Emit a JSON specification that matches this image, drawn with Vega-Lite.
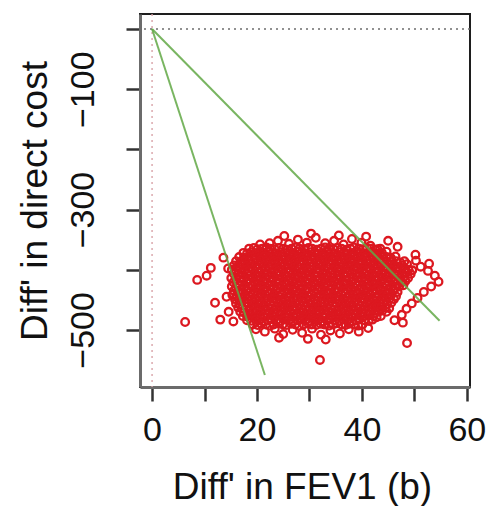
{
  "$schema": "https://vega.github.io/schema/vega-lite/v6.json",
  "width": 330,
  "height": 373,
  "autosize": {"type": "none"},
  "padding": {"left": 140, "top": 14, "right": 22, "bottom": 119},
  "background": "white",
  "config": {
    "font": "Liberation Sans",
    "view": {"stroke": "#1e1e1e", "strokeWidth": 2}
  },
  "datasets": {
    "sims": [
      {"x":18.5,"y":-365},{"x":19.4,"y":-364},{"x":20.1,"y":-366},{"x":21.0,"y":-365},{"x":21.8,"y":-363},{"x":22.5,"y":-365},{"x":23.4,"y":-366},{"x":24.2,"y":-364},{"x":25.0,"y":-365},{"x":25.7,"y":-367},{"x":26.6,"y":-365},{"x":27.4,"y":-363},{"x":28.1,"y":-365},{"x":29.0,"y":-366},{"x":29.8,"y":-364},{"x":30.5,"y":-365},{"x":31.4,"y":-367},{"x":32.2,"y":-365},{"x":33.0,"y":-363},{"x":33.7,"y":-365},{"x":34.6,"y":-366},{"x":35.4,"y":-364},{"x":36.1,"y":-365},{"x":37.0,"y":-367},{"x":37.8,"y":-365},{"x":38.5,"y":-363},{"x":39.4,"y":-365},{"x":40.2,"y":-366},{"x":41.0,"y":-364},{"x":41.7,"y":-365},{"x":42.6,"y":-367},{"x":43.5,"y":-365},
      {"x":17.4,"y":-372},{"x":18.1,"y":-373},{"x":18.9,"y":-371},{"x":19.8,"y":-372},{"x":20.5,"y":-374},{"x":21.4,"y":-372},{"x":22.2,"y":-370},{"x":22.9,"y":-372},{"x":23.8,"y":-373},{"x":24.6,"y":-371},{"x":25.3,"y":-372},{"x":26.2,"y":-374},{"x":27.0,"y":-372},{"x":27.8,"y":-370},{"x":28.5,"y":-372},{"x":29.4,"y":-373},{"x":30.2,"y":-371},{"x":31.0,"y":-372},{"x":31.7,"y":-374},{"x":32.6,"y":-372},{"x":33.4,"y":-370},{"x":34.1,"y":-372},{"x":35.0,"y":-373},{"x":35.8,"y":-371},{"x":36.6,"y":-372},{"x":37.3,"y":-374},{"x":38.2,"y":-372},{"x":39.0,"y":-370},{"x":39.7,"y":-372},{"x":40.6,"y":-373},{"x":41.4,"y":-371},{"x":42.1,"y":-372},{"x":43.0,"y":-374},{"x":43.8,"y":-372},{"x":44.7,"y":-370},
      {"x":16.6,"y":-379},{"x":17.5,"y":-380},{"x":18.3,"y":-378},{"x":19.0,"y":-379},{"x":19.9,"y":-381},{"x":20.7,"y":-379},{"x":21.4,"y":-377},{"x":22.3,"y":-379},{"x":23.1,"y":-380},{"x":23.8,"y":-378},{"x":24.7,"y":-379},{"x":25.5,"y":-381},{"x":26.3,"y":-379},{"x":27.0,"y":-377},{"x":27.9,"y":-379},{"x":28.7,"y":-380},{"x":29.4,"y":-378},{"x":30.3,"y":-379},{"x":31.1,"y":-381},{"x":31.9,"y":-379},{"x":32.6,"y":-377},{"x":33.5,"y":-379},{"x":34.3,"y":-380},{"x":35.0,"y":-378},{"x":35.9,"y":-379},{"x":36.7,"y":-381},{"x":37.4,"y":-379},{"x":38.3,"y":-377},{"x":39.1,"y":-379},{"x":39.8,"y":-380},{"x":40.7,"y":-378},{"x":41.5,"y":-379},{"x":42.3,"y":-381},{"x":43.0,"y":-379},{"x":43.9,"y":-377},{"x":44.7,"y":-379},{"x":45.5,"y":-380},{"x":46.4,"y":-378},
      {"x":16.0,"y":-386},{"x":16.9,"y":-387},{"x":17.7,"y":-385},{"x":18.4,"y":-386},{"x":19.3,"y":-388},{"x":20.1,"y":-386},{"x":20.8,"y":-384},{"x":21.7,"y":-386},{"x":22.5,"y":-387},{"x":23.3,"y":-385},{"x":24.0,"y":-386},{"x":24.9,"y":-388},{"x":25.7,"y":-386},{"x":26.4,"y":-384},{"x":27.3,"y":-386},{"x":28.1,"y":-387},{"x":28.8,"y":-385},{"x":29.7,"y":-386},{"x":30.5,"y":-388},{"x":31.3,"y":-386},{"x":32.0,"y":-384},{"x":32.9,"y":-386},{"x":33.7,"y":-387},{"x":34.4,"y":-385},{"x":35.3,"y":-386},{"x":36.1,"y":-388},{"x":36.8,"y":-386},{"x":37.7,"y":-384},{"x":38.5,"y":-386},{"x":39.3,"y":-387},{"x":40.0,"y":-385},{"x":40.9,"y":-386},{"x":41.7,"y":-388},{"x":42.4,"y":-386},{"x":43.3,"y":-384},{"x":44.1,"y":-386},{"x":44.8,"y":-387},{"x":45.7,"y":-385},{"x":46.5,"y":-386},{"x":47.3,"y":-388},{"x":48.1,"y":-386},
      {"x":15.6,"y":-393},{"x":16.4,"y":-394},{"x":17.3,"y":-392},{"x":18.0,"y":-393},{"x":18.8,"y":-395},{"x":19.7,"y":-393},{"x":20.4,"y":-391},{"x":21.2,"y":-393},{"x":22.1,"y":-394},{"x":22.9,"y":-392},{"x":23.6,"y":-393},{"x":24.5,"y":-395},{"x":25.3,"y":-393},{"x":26.0,"y":-391},{"x":26.9,"y":-393},{"x":27.7,"y":-394},{"x":28.4,"y":-392},{"x":29.3,"y":-393},{"x":30.1,"y":-395},{"x":30.8,"y":-393},{"x":31.7,"y":-391},{"x":32.5,"y":-393},{"x":33.3,"y":-394},{"x":34.0,"y":-392},{"x":34.9,"y":-393},{"x":35.7,"y":-395},{"x":36.4,"y":-393},{"x":37.3,"y":-391},{"x":38.1,"y":-393},{"x":38.8,"y":-394},{"x":39.7,"y":-392},{"x":40.5,"y":-393},{"x":41.2,"y":-395},{"x":42.1,"y":-393},{"x":42.9,"y":-391},{"x":43.7,"y":-393},{"x":44.4,"y":-394},{"x":45.3,"y":-392},{"x":46.1,"y":-393},{"x":46.8,"y":-395},{"x":47.7,"y":-393},{"x":48.6,"y":-391},
      {"x":15.2,"y":-400},{"x":16.0,"y":-401},{"x":16.8,"y":-399},{"x":17.7,"y":-400},{"x":18.4,"y":-402},{"x":19.2,"y":-400},{"x":20.1,"y":-398},{"x":20.9,"y":-400},{"x":21.6,"y":-401},{"x":22.5,"y":-399},{"x":23.3,"y":-400},{"x":24.0,"y":-402},{"x":24.9,"y":-400},{"x":25.7,"y":-398},{"x":26.4,"y":-400},{"x":27.3,"y":-401},{"x":28.1,"y":-399},{"x":28.9,"y":-400},{"x":29.6,"y":-402},{"x":30.5,"y":-400},{"x":31.3,"y":-398},{"x":32.0,"y":-400},{"x":32.9,"y":-401},{"x":33.7,"y":-399},{"x":34.4,"y":-400},{"x":35.3,"y":-402},{"x":36.1,"y":-400},{"x":36.8,"y":-398},{"x":37.7,"y":-400},{"x":38.5,"y":-401},{"x":39.2,"y":-399},{"x":40.1,"y":-400},{"x":40.9,"y":-402},{"x":41.6,"y":-400},{"x":42.5,"y":-398},{"x":43.3,"y":-400},{"x":44.1,"y":-401},{"x":44.8,"y":-399},{"x":45.7,"y":-400},{"x":46.5,"y":-402},{"x":47.2,"y":-400},{"x":48.1,"y":-398},{"x":48.9,"y":-400},{"x":49.6,"y":-401},
      {"x":15.6,"y":-407},{"x":16.4,"y":-408},{"x":17.2,"y":-406},{"x":18.1,"y":-407},{"x":18.8,"y":-409},{"x":19.6,"y":-407},{"x":20.5,"y":-405},{"x":21.3,"y":-407},{"x":22.0,"y":-408},{"x":22.9,"y":-406},{"x":23.7,"y":-407},{"x":24.4,"y":-409},{"x":25.3,"y":-407},{"x":26.1,"y":-405},{"x":26.8,"y":-407},{"x":27.7,"y":-408},{"x":28.5,"y":-406},{"x":29.2,"y":-407},{"x":30.1,"y":-409},{"x":30.9,"y":-407},{"x":31.6,"y":-405},{"x":32.5,"y":-407},{"x":33.3,"y":-408},{"x":34.1,"y":-406},{"x":34.8,"y":-407},{"x":35.7,"y":-409},{"x":36.5,"y":-407},{"x":37.2,"y":-405},{"x":38.1,"y":-407},{"x":38.9,"y":-408},{"x":39.6,"y":-406},{"x":40.5,"y":-407},{"x":41.3,"y":-409},{"x":42.0,"y":-407},{"x":42.9,"y":-405},{"x":43.7,"y":-407},{"x":44.4,"y":-408},{"x":45.3,"y":-406},{"x":46.1,"y":-407},{"x":46.9,"y":-409},{"x":47.6,"y":-407},{"x":48.5,"y":-405},{"x":49.3,"y":-407},
      {"x":15.1,"y":-414},{"x":16.0,"y":-415},{"x":16.8,"y":-413},{"x":17.5,"y":-414},{"x":18.4,"y":-416},{"x":19.2,"y":-414},{"x":19.9,"y":-412},{"x":20.8,"y":-414},{"x":21.6,"y":-415},{"x":22.4,"y":-413},{"x":23.1,"y":-414},{"x":24.0,"y":-416},{"x":24.8,"y":-414},{"x":25.5,"y":-412},{"x":26.4,"y":-414},{"x":27.2,"y":-415},{"x":27.9,"y":-413},{"x":28.8,"y":-414},{"x":29.6,"y":-416},{"x":30.3,"y":-414},{"x":31.2,"y":-412},{"x":32.0,"y":-414},{"x":32.8,"y":-415},{"x":33.5,"y":-413},{"x":34.4,"y":-414},{"x":35.2,"y":-416},{"x":35.9,"y":-414},{"x":36.8,"y":-412},{"x":37.6,"y":-414},{"x":38.3,"y":-415},{"x":39.2,"y":-413},{"x":40.0,"y":-414},{"x":40.7,"y":-416},{"x":41.6,"y":-414},{"x":42.4,"y":-412},{"x":43.2,"y":-414},{"x":43.9,"y":-415},{"x":44.8,"y":-413},{"x":45.6,"y":-414},{"x":46.3,"y":-416},{"x":47.2,"y":-414},{"x":48.0,"y":-412},{"x":48.8,"y":-414},
      {"x":15.5,"y":-421},{"x":16.3,"y":-422},{"x":17.1,"y":-420},{"x":18.0,"y":-421},{"x":18.7,"y":-423},{"x":19.5,"y":-421},{"x":20.4,"y":-419},{"x":21.2,"y":-421},{"x":21.9,"y":-422},{"x":22.8,"y":-420},{"x":23.6,"y":-421},{"x":24.3,"y":-423},{"x":25.2,"y":-421},{"x":26.0,"y":-419},{"x":26.7,"y":-421},{"x":27.6,"y":-422},{"x":28.4,"y":-420},{"x":29.2,"y":-421},{"x":29.9,"y":-423},{"x":30.8,"y":-421},{"x":31.6,"y":-419},{"x":32.3,"y":-421},{"x":33.2,"y":-422},{"x":34.0,"y":-420},{"x":34.7,"y":-421},{"x":35.6,"y":-423},{"x":36.4,"y":-421},{"x":37.1,"y":-419},{"x":38.0,"y":-421},{"x":38.8,"y":-422},{"x":39.5,"y":-420},{"x":40.4,"y":-421},{"x":41.2,"y":-423},{"x":41.9,"y":-421},{"x":42.8,"y":-419},{"x":43.6,"y":-421},{"x":44.4,"y":-422},{"x":45.1,"y":-420},{"x":46.0,"y":-421},{"x":46.8,"y":-423},{"x":47.5,"y":-421},{"x":48.3,"y":-419},
      {"x":15.2,"y":-428},{"x":16.0,"y":-429},{"x":16.7,"y":-427},{"x":17.6,"y":-428},{"x":18.4,"y":-430},{"x":19.1,"y":-428},{"x":20.0,"y":-426},{"x":20.8,"y":-428},{"x":21.5,"y":-429},{"x":22.4,"y":-427},{"x":23.2,"y":-428},{"x":23.9,"y":-430},{"x":24.8,"y":-428},{"x":25.6,"y":-426},{"x":26.4,"y":-428},{"x":27.1,"y":-429},{"x":28.0,"y":-427},{"x":28.8,"y":-428},{"x":29.5,"y":-430},{"x":30.4,"y":-428},{"x":31.2,"y":-426},{"x":31.9,"y":-428},{"x":32.8,"y":-429},{"x":33.6,"y":-427},{"x":34.3,"y":-428},{"x":35.2,"y":-430},{"x":36.0,"y":-428},{"x":36.7,"y":-426},{"x":37.6,"y":-428},{"x":38.4,"y":-429},{"x":39.1,"y":-427},{"x":40.0,"y":-428},{"x":40.8,"y":-430},{"x":41.6,"y":-428},{"x":42.3,"y":-426},{"x":43.2,"y":-428},{"x":44.0,"y":-429},{"x":44.7,"y":-427},{"x":45.6,"y":-428},{"x":46.4,"y":-430},{"x":47.1,"y":-428},{"x":47.9,"y":-426},
      {"x":15.6,"y":-435},{"x":16.4,"y":-436},{"x":17.1,"y":-434},{"x":18.0,"y":-435},{"x":18.8,"y":-437},{"x":19.5,"y":-435},{"x":20.4,"y":-433},{"x":21.2,"y":-435},{"x":22.0,"y":-436},{"x":22.7,"y":-434},{"x":23.6,"y":-435},{"x":24.4,"y":-437},{"x":25.1,"y":-435},{"x":26.0,"y":-433},{"x":26.8,"y":-435},{"x":27.5,"y":-436},{"x":28.4,"y":-434},{"x":29.2,"y":-435},{"x":29.9,"y":-437},{"x":30.8,"y":-435},{"x":31.6,"y":-433},{"x":32.3,"y":-435},{"x":33.2,"y":-436},{"x":34.0,"y":-434},{"x":34.8,"y":-435},{"x":35.5,"y":-437},{"x":36.4,"y":-435},{"x":37.2,"y":-433},{"x":37.9,"y":-435},{"x":38.8,"y":-436},{"x":39.6,"y":-434},{"x":40.3,"y":-435},{"x":41.2,"y":-437},{"x":42.0,"y":-435},{"x":42.7,"y":-433},{"x":43.6,"y":-435},{"x":44.4,"y":-436},{"x":45.1,"y":-434},{"x":46.0,"y":-435},{"x":46.8,"y":-437},
      {"x":15.3,"y":-442},{"x":16.1,"y":-443},{"x":16.9,"y":-441},{"x":17.7,"y":-442},{"x":18.5,"y":-444},{"x":19.3,"y":-442},{"x":20.0,"y":-440},{"x":20.9,"y":-442},{"x":21.7,"y":-443},{"x":22.4,"y":-441},{"x":23.3,"y":-442},{"x":24.1,"y":-444},{"x":24.8,"y":-442},{"x":25.7,"y":-440},{"x":26.5,"y":-442},{"x":27.3,"y":-443},{"x":28.0,"y":-441},{"x":28.9,"y":-442},{"x":29.7,"y":-444},{"x":30.4,"y":-442},{"x":31.3,"y":-440},{"x":32.1,"y":-442},{"x":32.8,"y":-443},{"x":33.7,"y":-441},{"x":34.5,"y":-442},{"x":35.2,"y":-444},{"x":36.1,"y":-442},{"x":36.9,"y":-440},{"x":37.7,"y":-442},{"x":38.4,"y":-443},{"x":39.3,"y":-441},{"x":40.1,"y":-442},{"x":40.8,"y":-444},{"x":41.7,"y":-442},{"x":42.5,"y":-440},{"x":43.2,"y":-442},{"x":44.1,"y":-443},{"x":44.9,"y":-441},{"x":45.6,"y":-442},{"x":46.5,"y":-444},
      {"x":15.8,"y":-449},{"x":16.6,"y":-450},{"x":17.3,"y":-448},{"x":18.2,"y":-449},{"x":19.0,"y":-451},{"x":19.7,"y":-449},{"x":20.6,"y":-447},{"x":21.4,"y":-449},{"x":22.1,"y":-450},{"x":23.0,"y":-448},{"x":23.8,"y":-449},{"x":24.6,"y":-451},{"x":25.3,"y":-449},{"x":26.2,"y":-447},{"x":27.0,"y":-449},{"x":27.7,"y":-450},{"x":28.6,"y":-448},{"x":29.4,"y":-449},{"x":30.1,"y":-451},{"x":31.0,"y":-449},{"x":31.8,"y":-447},{"x":32.5,"y":-449},{"x":33.4,"y":-450},{"x":34.2,"y":-448},{"x":35.0,"y":-449},{"x":35.7,"y":-451},{"x":36.6,"y":-449},{"x":37.4,"y":-447},{"x":38.1,"y":-449},{"x":39.0,"y":-450},{"x":39.8,"y":-448},{"x":40.5,"y":-449},{"x":41.4,"y":-451},{"x":42.2,"y":-449},{"x":42.9,"y":-447},{"x":43.8,"y":-449},{"x":44.6,"y":-450},{"x":45.3,"y":-448},{"x":46.1,"y":-449},
      {"x":16.0,"y":-456},{"x":16.8,"y":-457},{"x":17.7,"y":-455},{"x":18.4,"y":-456},{"x":19.3,"y":-458},{"x":20.1,"y":-456},{"x":20.8,"y":-454},{"x":21.7,"y":-456},{"x":22.5,"y":-457},{"x":23.2,"y":-455},{"x":24.1,"y":-456},{"x":24.9,"y":-458},{"x":25.6,"y":-456},{"x":26.5,"y":-454},{"x":27.3,"y":-456},{"x":28.0,"y":-457},{"x":28.9,"y":-455},{"x":29.7,"y":-456},{"x":30.4,"y":-458},{"x":31.3,"y":-456},{"x":32.1,"y":-454},{"x":32.8,"y":-456},{"x":33.7,"y":-457},{"x":34.5,"y":-455},{"x":35.2,"y":-456},{"x":36.1,"y":-458},{"x":36.9,"y":-456},{"x":37.6,"y":-454},{"x":38.5,"y":-456},{"x":39.3,"y":-457},{"x":40.0,"y":-455},{"x":40.9,"y":-456},{"x":41.7,"y":-458},{"x":42.4,"y":-456},{"x":43.3,"y":-454},{"x":44.1,"y":-456},{"x":44.8,"y":-457},{"x":45.6,"y":-455},
      {"x":16.4,"y":-463},{"x":17.2,"y":-464},{"x":18.0,"y":-462},{"x":18.8,"y":-463},{"x":19.6,"y":-465},{"x":20.4,"y":-463},{"x":21.3,"y":-461},{"x":22.1,"y":-463},{"x":22.8,"y":-464},{"x":23.7,"y":-462},{"x":24.5,"y":-463},{"x":25.2,"y":-465},{"x":26.1,"y":-463},{"x":26.9,"y":-461},{"x":27.6,"y":-463},{"x":28.5,"y":-464},{"x":29.3,"y":-462},{"x":30.0,"y":-463},{"x":30.9,"y":-465},{"x":31.7,"y":-463},{"x":32.4,"y":-461},{"x":33.3,"y":-463},{"x":34.1,"y":-464},{"x":34.8,"y":-462},{"x":35.7,"y":-463},{"x":36.5,"y":-465},{"x":37.2,"y":-463},{"x":38.1,"y":-461},{"x":38.9,"y":-463},{"x":39.6,"y":-464},{"x":40.5,"y":-462},{"x":41.3,"y":-463},{"x":42.0,"y":-465},{"x":42.9,"y":-463},{"x":43.7,"y":-461},{"x":44.5,"y":-463},{"x":45.2,"y":-464},
      {"x":16.8,"y":-470},{"x":17.5,"y":-471},{"x":18.4,"y":-469},{"x":19.2,"y":-470},{"x":19.9,"y":-472},{"x":20.8,"y":-470},{"x":21.6,"y":-468},{"x":22.3,"y":-470},{"x":23.2,"y":-471},{"x":24.0,"y":-469},{"x":24.7,"y":-470},{"x":25.6,"y":-472},{"x":26.4,"y":-470},{"x":27.1,"y":-468},{"x":28.0,"y":-470},{"x":28.8,"y":-471},{"x":29.5,"y":-469},{"x":30.4,"y":-470},{"x":31.2,"y":-472},{"x":31.9,"y":-470},{"x":32.8,"y":-468},{"x":33.6,"y":-470},{"x":34.3,"y":-471},{"x":35.2,"y":-469},{"x":36.0,"y":-470},{"x":36.7,"y":-472},{"x":37.6,"y":-470},{"x":38.4,"y":-468},{"x":39.1,"y":-470},{"x":40.0,"y":-471},{"x":40.8,"y":-469},{"x":41.5,"y":-470},{"x":42.4,"y":-472},{"x":43.2,"y":-470},{"x":43.9,"y":-468},{"x":44.7,"y":-470},
      {"x":17.3,"y":-477},{"x":18.1,"y":-478},{"x":18.9,"y":-476},{"x":19.7,"y":-477},{"x":20.5,"y":-479},{"x":21.2,"y":-477},{"x":22.1,"y":-475},{"x":22.9,"y":-477},{"x":23.6,"y":-478},{"x":24.5,"y":-476},{"x":25.3,"y":-477},{"x":26.0,"y":-479},{"x":26.9,"y":-477},{"x":27.7,"y":-475},{"x":28.4,"y":-477},{"x":29.3,"y":-478},{"x":30.1,"y":-476},{"x":30.8,"y":-477},{"x":31.7,"y":-479},{"x":32.5,"y":-477},{"x":33.2,"y":-475},{"x":34.1,"y":-477},{"x":34.9,"y":-478},{"x":35.6,"y":-476},{"x":36.5,"y":-477},{"x":37.3,"y":-479},{"x":38.0,"y":-477},{"x":38.9,"y":-475},{"x":39.7,"y":-477},{"x":40.4,"y":-478},{"x":41.3,"y":-476},{"x":42.1,"y":-477},{"x":42.8,"y":-479},{"x":43.6,"y":-477},
      {"x":18.1,"y":-484},{"x":18.9,"y":-485},{"x":19.7,"y":-483},{"x":20.4,"y":-484},{"x":21.3,"y":-486},{"x":22.1,"y":-484},{"x":22.8,"y":-482},{"x":23.7,"y":-484},{"x":24.5,"y":-485},{"x":25.2,"y":-483},{"x":26.1,"y":-484},{"x":26.9,"y":-486},{"x":27.6,"y":-484},{"x":28.5,"y":-482},{"x":29.3,"y":-484},{"x":30.0,"y":-485},{"x":30.9,"y":-483},{"x":31.7,"y":-484},{"x":32.4,"y":-486},{"x":33.3,"y":-484},{"x":34.1,"y":-482},{"x":34.8,"y":-484},{"x":35.7,"y":-485},{"x":36.5,"y":-483},{"x":37.2,"y":-484},{"x":38.1,"y":-486},{"x":38.9,"y":-484},{"x":39.6,"y":-482},{"x":40.5,"y":-484},{"x":41.3,"y":-485},{"x":42.0,"y":-483},
      {"x":19.2,"y":-491},{"x":20.1,"y":-492},{"x":20.8,"y":-490},{"x":21.7,"y":-491},{"x":22.5,"y":-493},{"x":23.2,"y":-491},{"x":24.1,"y":-489},{"x":24.9,"y":-491},{"x":25.6,"y":-492},{"x":26.5,"y":-490},{"x":27.3,"y":-491},{"x":28.0,"y":-493},{"x":28.9,"y":-491},{"x":29.7,"y":-489},{"x":30.4,"y":-491},{"x":31.3,"y":-492},{"x":32.1,"y":-490},{"x":32.8,"y":-491},{"x":33.7,"y":-493},{"x":34.5,"y":-491},{"x":35.2,"y":-489},{"x":36.1,"y":-491},{"x":36.9,"y":-492},{"x":37.6,"y":-490},{"x":38.5,"y":-491},{"x":39.3,"y":-493},{"x":40.1,"y":-491},
      {"x":20.6,"y":-358},{"x":22.4,"y":-356},{"x":24.0,"y":-352},{"x":26.1,"y":-357},{"x":27.8,"y":-350},{"x":29.5,"y":-355},{"x":31.2,"y":-347},{"x":33.0,"y":-356},{"x":34.7,"y":-352},{"x":36.5,"y":-358},{"x":38.1,"y":-349},{"x":39.9,"y":-355},{"x":41.6,"y":-360},{"x":43.0,"y":-366},{"x":25.2,"y":-344},{"x":30.3,"y":-340},{"x":35.6,"y":-343},{"x":40.8,"y":-345},{"x":45.0,"y":-352},{"x":46.8,"y":-362},
      {"x":19.8,"y":-499},{"x":21.5,"y":-503},{"x":23.4,"y":-498},{"x":25.0,"y":-507},{"x":26.8,"y":-500},{"x":28.6,"y":-505},{"x":30.5,"y":-498},{"x":32.2,"y":-508},{"x":34.0,"y":-501},{"x":35.8,"y":-506},{"x":37.5,"y":-499},{"x":39.4,"y":-503},{"x":41.2,"y":-497},{"x":24.2,"y":-513},{"x":29.7,"y":-515},{"x":33.1,"y":-516},
      {"x":14.5,"y":-398},{"x":14.2,"y":-445},{"x":14.6,"y":-470},{"x":13.0,"y":-483},{"x":12.0,"y":-455},{"x":11.2,"y":-397},{"x":8.6,"y":-417},{"x":10.4,"y":-410},{"x":6.3,"y":-487},{"x":13.6,"y":-380},{"x":15.5,"y":-486},
      {"x":50.3,"y":-385},{"x":51.2,"y":-395},{"x":52.6,"y":-402},{"x":53.9,"y":-410},{"x":54.6,"y":-420},{"x":53.2,"y":-428},{"x":51.8,"y":-437},{"x":50.6,"y":-447},{"x":49.5,"y":-456},{"x":50.2,"y":-375},{"x":52.8,"y":-390},{"x":48.5,"y":-465},{"x":47.6,"y":-475},{"x":46.2,"y":-484},
      {"x":47.8,"y":-488},{"x":48.6,"y":-522},{"x":32.0,"y":-550}
    ],
    "thresholds": [
      {"x": 0, "y": 0, "k": "lower"},
      {"x": 21.5, "y": -575, "k": "lower"},
      {"x": 0, "y": 0, "k": "upper"},
      {"x": 54.8, "y": -485, "k": "upper"}
    ]
  },
  "layer": [
    {
      "data": {"name": "sims"},
      "mark": {"type": "point", "shape": "circle", "filled": false, "size": 58, "strokeWidth": 2.3, "color": "#dc1820", "opacity": 1},
      "encoding": {
        "x": {
          "field": "x", "type": "quantitative",
          "scale": {"domain": [-2.3, 60.6], "nice": false, "zero": false},
          "axis": {
            "title": "Diff' in FEV1 (b)",
            "values": [0, 10, 20, 30, 40, 50, 60],
            "labelExpr": "datum.value % 20 == 0 ? datum.label : ''",
            "grid": false,
            "domain": true, "domainColor": "#6b6b6b", "domainWidth": 3,
            "ticks": true, "tickSize": 14, "tickWidth": 2.5, "tickColor": "#333333",
            "labelFontSize": 34, "labelColor": "#111111", "labelPadding": 39,
            "labelBaseline": "alphabetic", "labelFlush": false, "labelOverlap": false,
            "titleFontSize": 37, "titleFontWeight": "normal", "titleColor": "#111111",
            "titleBaseline": "alphabetic", "titleAlign": "center", "titleX": 162, "titleY": 111
          }
        },
        "y": {
          "field": "y", "type": "quantitative",
          "scale": {"domain": [-595, 25], "nice": false, "zero": false},
          "axis": {
            "title": "Diff' in direct cost",
            "values": [0, -100, -200, -300, -400, -500],
            "labelExpr": "datum.value % 200 != 0 ? datum.label : ''",
            "grid": false,
            "domain": true, "domainColor": "#6b6b6b", "domainWidth": 3,
            "ticks": true, "tickSize": 14, "tickWidth": 2.5, "tickColor": "#333333",
            "labelFontSize": 34, "labelColor": "#111111", "labelPadding": 43,
            "labelAngle": -90, "labelAlign": "center", "labelBaseline": "middle",
            "labelFlush": false, "labelOverlap": false,
            "titleFontSize": 37, "titleFontWeight": "normal", "titleColor": "#111111",
            "titleAngle": -90, "titleBaseline": "alphabetic", "titleAlign": "center",
            "titleX": -94, "titleY": 186.5
          }
        }
      }
    },
    {
      "data": {"values": [{"y": 0}]},
      "mark": {"type": "rule", "color": "#6e6e6e", "strokeDash": [2, 4], "strokeWidth": 1.6},
      "encoding": {
        "y": {"field": "y", "type": "quantitative",
              "scale": {"domain": [-595, 25], "nice": false, "zero": false}}
      }
    },
    {
      "data": {"values": [{"x": 0}]},
      "mark": {"type": "rule", "color": "#d9a3a8", "strokeDash": [2, 4], "strokeWidth": 1.4},
      "encoding": {
        "x": {"field": "x", "type": "quantitative",
              "scale": {"domain": [-2.3, 60.6], "nice": false, "zero": false}}
      }
    },
    {
      "data": {"name": "thresholds"},
      "mark": {"type": "line", "color": "#62a845", "strokeWidth": 2, "opacity": 0.85},
      "encoding": {
        "x": {"field": "x", "type": "quantitative", "scale": {"domain": [-2.3, 60.6], "nice": false, "zero": false}},
        "y": {"field": "y", "type": "quantitative", "scale": {"domain": [-595, 25], "nice": false, "zero": false}},
        "detail": {"field": "k", "type": "nominal"}
      }
    }
  ]
}
